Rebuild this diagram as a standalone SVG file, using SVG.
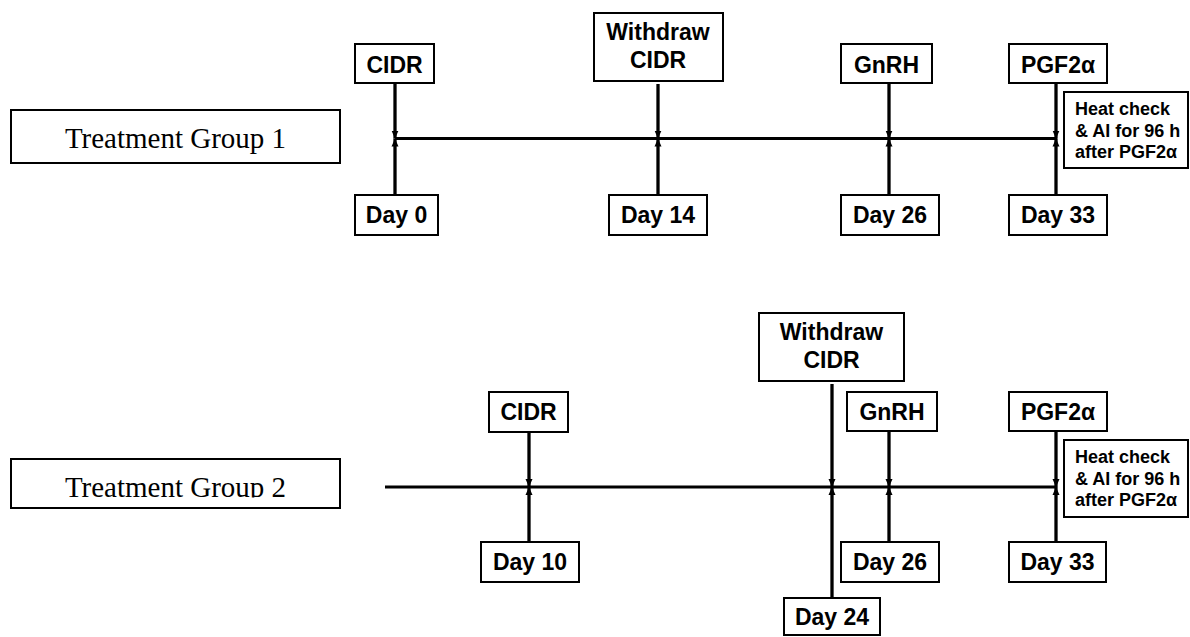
<svg xmlns="http://www.w3.org/2000/svg" width="1190" height="637" viewBox="0 0 1190 637">
<style>
.box{fill:#fff;stroke:#000;stroke-width:2}
.lbl{font-family:"Liberation Sans",Arial,sans-serif;font-weight:bold;font-size:23px;text-anchor:middle;fill:#000}
.note{font-family:"Liberation Sans",Arial,sans-serif;font-weight:bold;font-size:18px;fill:#000}
.grp{font-family:"Liberation Serif","Times New Roman",serif;font-size:29px;text-anchor:middle;fill:#000}
.axis{stroke:#000;stroke-width:3;fill:none}
.arr{stroke:#000;stroke-width:3.3;fill:none;marker-end:url(#ah)}
</style>
<defs>
<marker id="ah" markerUnits="userSpaceOnUse" markerWidth="8" markerHeight="8" viewBox="0 0 8 8" refX="8" refY="4" orient="auto">
<path d="M0,0.5 L8,4 L0,7.5 z" fill="#000"/>
</marker>
<clipPath id="clipG2"><rect x="11" y="459" width="329" height="38.5"/></clipPath>
</defs>
<rect width="1190" height="637" fill="#fff"/>

<g id="connectors">
<line class="axis" x1="395" y1="138.5" x2="1057" y2="138.5"/>
<line class="arr" x1="395" y1="84" x2="395" y2="138.5"/>
<line class="arr" x1="395" y1="195" x2="395" y2="138.5"/>
<line class="arr" x1="658" y1="84" x2="658" y2="138.5"/>
<line class="arr" x1="658" y1="195" x2="658" y2="138.5"/>
<line class="arr" x1="889" y1="84" x2="889" y2="138.5"/>
<line class="arr" x1="889" y1="195" x2="889" y2="138.5"/>
<line class="arr" x1="1056" y1="84" x2="1056" y2="138.5"/>
<line class="arr" x1="1056" y1="195" x2="1056" y2="138.5"/>

<line class="axis" x1="385" y1="487" x2="1057" y2="487"/>
<line class="arr" x1="529" y1="433" x2="529" y2="487"/>
<line class="arr" x1="529" y1="542" x2="529" y2="487"/>
<line class="arr" x1="832" y1="384" x2="832" y2="487"/>
<line class="arr" x1="832" y1="598" x2="832" y2="487"/>
<line class="arr" x1="889" y1="432" x2="889" y2="487"/>
<line class="arr" x1="889" y1="542" x2="889" y2="487"/>
<line class="arr" x1="1056" y1="432" x2="1056" y2="487"/>
<line class="arr" x1="1056" y1="542" x2="1056" y2="487"/>
</g>

<g id="group1-label"><rect class="box" x="11" y="110" width="329" height="53"/><text class="grp" x="175.5" y="148">Treatment Group 1</text></g>
<g id="g1-cidr"><rect class="box" x="355" y="44" width="79" height="39"/><text class="lbl" x="394.5" y="73">CIDR</text></g>
<g id="g1-day0"><rect class="box" x="355" y="195" width="83" height="40"/><text class="lbl" x="396.5" y="223">Day 0</text></g>
<g id="g1-withdraw"><rect class="box" x="594" y="13" width="129" height="68"/><text class="lbl" x="658" y="40">Withdraw</text><text class="lbl" x="658" y="68">CIDR</text></g>
<g id="g1-day14"><rect class="box" x="609" y="195" width="98" height="40"/><text class="lbl" x="658" y="223">Day 14</text></g>
<g id="g1-gnrh"><rect class="box" x="841" y="44" width="91" height="39"/><text class="lbl" x="886.5" y="73">GnRH</text></g>
<g id="g1-day26"><rect class="box" x="841" y="195" width="98" height="40"/><text class="lbl" x="890" y="223">Day 26</text></g>
<g id="g1-pgf"><rect class="box" x="1009" y="44" width="98" height="39"/><text class="lbl" x="1058" y="73">PGF2α</text></g>
<g id="g1-day33"><rect class="box" x="1009" y="195" width="98" height="40"/><text class="lbl" x="1058" y="223">Day 33</text></g>
<g id="g1-heat"><rect class="box" x="1064" y="92" width="124" height="76"/><text class="note" x="1075" y="115">Heat check</text><text class="note" x="1075" y="136.5">&amp; AI for 96 h</text><text class="note" x="1075" y="158">after PGF2α</text></g>

<g id="group2-label"><rect class="box" x="11" y="459" width="329" height="49"/><text class="grp" x="175.5" y="497" clip-path="url(#clipG2)">Treatment Group 2</text></g>
<g id="g2-cidr"><rect class="box" x="489" y="392" width="79" height="40"/><text class="lbl" x="528.5" y="420">CIDR</text></g>
<g id="g2-day10"><rect class="box" x="481" y="542" width="98" height="40"/><text class="lbl" x="530" y="570">Day 10</text></g>
<g id="g2-withdraw"><rect class="box" x="759" y="313" width="145" height="68"/><text class="lbl" x="831.5" y="340">Withdraw</text><text class="lbl" x="831.5" y="368">CIDR</text></g>
<g id="g2-day24"><rect class="box" x="784" y="598" width="96" height="37"/><text class="lbl" x="832" y="625">Day 24</text></g>
<g id="g2-gnrh"><rect class="box" x="847" y="392" width="90" height="39"/><text class="lbl" x="892" y="420">GnRH</text></g>
<g id="g2-day26"><rect class="box" x="841" y="542" width="98" height="40"/><text class="lbl" x="890" y="570">Day 26</text></g>
<g id="g2-pgf"><rect class="box" x="1009" y="392" width="98" height="39"/><text class="lbl" x="1058" y="420">PGF2α</text></g>
<g id="g2-day33"><rect class="box" x="1009" y="542" width="97" height="40"/><text class="lbl" x="1057.5" y="570">Day 33</text></g>
<g id="g2-heat"><rect class="box" x="1064" y="440" width="124" height="77"/><text class="note" x="1075" y="463">Heat check</text><text class="note" x="1075" y="484.5">&amp; AI for 96 h</text><text class="note" x="1075" y="506">after PGF2α</text></g>
</svg>
